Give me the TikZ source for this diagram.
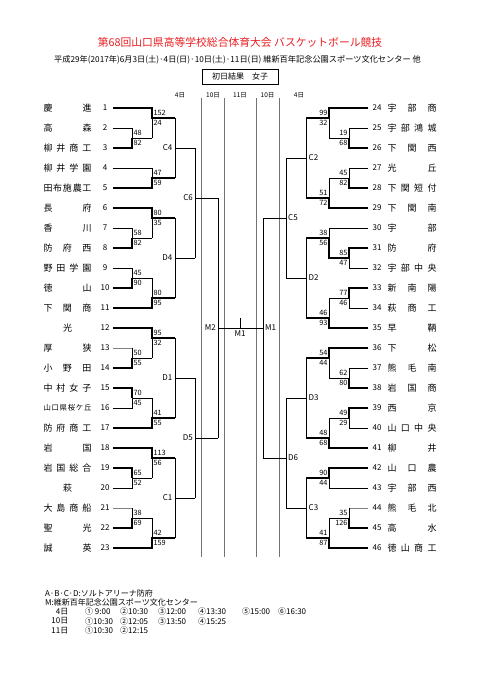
\documentclass[tikz,border=0pt]{standalone}
\usepackage{fontspec}
\setmainfont{Noto Sans CJK JP}
\definecolor{titlered}{RGB}{235,30,35}
\newcommand\lteam[2]{\node[nm] (nL#1) at (67.5,{108+20*(#1-1)}) {\makebox[48pt]{#2}};\node[num] (uL#1) at (105,{108+20*(#1-1)}) {#1};}
\newcommand\rteam[2]{\node[nm] (nR#1) at (412,{108+20*(#1-24)}) {\makebox[49pt]{#2}};\node[num] (uR#1) at (377,{108+20*(#1-24)}) {#1};}
\newcommand\lsc[4]{\node[sc,anchor=west] at (#1+1.3,#2-5.2) {#3};\node[sc,anchor=west] at (#1+1.3,#2+5.2) {#4};}
\newcommand\rsc[4]{\node[sc,anchor=east] at (#1-1.3,#2-5.2) {#3};\node[sc,anchor=east] at (#1-1.3,#2+5.2) {#4};}
\begin{document}
\begin{tikzpicture}[x=1pt,y=-1pt,
  ln/.style={line width=0.8pt,line join=miter},
  wn/.style={line width=2pt,line join=miter},
  lg/.style={line width=0.8pt,black!50},
  day/.style={black!55,line width=0.6pt},
  nm/.style={inner sep=0pt,font=\fontsize{9}{9}\selectfont},
  num/.style={inner sep=0pt,font=\fontsize{8}{8}\selectfont},
  sc/.style={inner sep=0pt,font=\fontsize{7.3}{7.3}\selectfont},
  lab/.style={inner sep=0pt,font=\fontsize{8}{8}\selectfont},
  hd/.style={inner sep=0pt,font=\fontsize{6.5}{6.5}\selectfont},
  note/.style={inner sep=0pt,anchor=west,font=\fontsize{8}{8}\selectfont}]
\useasboundingbox (0,0) rectangle (481,680);
\fill[white] (0,0) rectangle (481,680);

% titles
\node[inner sep=0pt,text=titlered,font=\fontsize{10.8}{11}\selectfont] (title) at (240,42) {第68回山口県高等学校総合体育大会 バスケットボール競技};
\node[inner sep=0pt,font=\fontsize{8.2}{8.4}\selectfont] (sub) at (237.5,60) {平成29年(2017年)6月3日(土)·4日(日)·10日(土)·11日(日) 維新百年記念公園スポーツ文化センター 他};
\node[draw,line width=0.7pt,minimum width=76pt,minimum height=15pt,inner sep=0pt,font=\fontsize{8}{8}\selectfont] (box) at (240,76.5) {初日結果　女子};

% day headers and lines
\node[hd] (h1) at (180,95) {4日};
\node[hd] (h2) at (213,95) {10日};
\node[hd] (h3) at (240,95) {11日};
\node[hd] (h4) at (267.5,95) {10日};
\node[hd] (h5) at (299,95) {4日};
\coordinate (d1t) at (201.5,98); \coordinate (d1b) at (201.5,557);
\coordinate (d2t) at (224,98); \coordinate (d2b) at (224,557);
\coordinate (d3t) at (256.5,98); \coordinate (d3b) at (256.5,557);
\coordinate (d4t) at (279,98); \coordinate (d4b) at (279,557);
\draw[day] (d1t) -- (d1b); \draw[day] (d2t) -- (d2b);
\draw[day] (d3t) -- (d3b); \draw[day] (d4t) -- (d4b);

% left teams
\lteam{1}{慶\hfill 進}
\lteam{2}{高\hfill 森}
\lteam{3}{柳\hfill 井\hfill 商\hfill 工}
\lteam{4}{柳\hfill 井\hfill 学\hfill 園}
\lteam{5}{田\hfill 布\hfill 施\hfill 農\hfill 工}
\lteam{6}{長\hfill 府}
\lteam{7}{香\hfill 川}
\lteam{8}{防\hfill 府\hfill 西}
\lteam{9}{野\hfill 田\hfill 学\hfill 園}
\lteam{10}{徳\hfill 山}
\lteam{11}{下\hfill 関\hfill 商}
\lteam{12}{\hfill 光\hfill}
\lteam{13}{厚\hfill 狭}
\lteam{14}{小\hfill 野\hfill 田}
\lteam{15}{中\hfill 村\hfill 女\hfill 子}
\lteam{16}{\fontsize{7.4}{7.4}\selectfont 山\hfill 口\hfill 県\hfill 桜\hfill ケ\hfill 丘}
\lteam{17}{防\hfill 府\hfill 商\hfill 工}
\lteam{18}{岩\hfill 国}
\lteam{19}{岩\hfill 国\hfill 総\hfill 合}
\lteam{20}{\hfill 萩\hfill}
\lteam{21}{大\hfill 島\hfill 商\hfill 船}
\lteam{22}{聖\hfill 光}
\lteam{23}{誠\hfill 英}

% right teams
\rteam{24}{宇\hfill 部\hfill 商}
\rteam{25}{宇\hfill 部\hfill 鴻\hfill 城}
\rteam{26}{下\hfill 関\hfill 西}
\rteam{27}{光\hfill 丘}
\rteam{28}{下\hfill 関\hfill 短\hfill 付}
\rteam{29}{下\hfill 関\hfill 南}
\rteam{30}{宇\hfill 部}
\rteam{31}{防\hfill 府}
\rteam{32}{宇\hfill 部\hfill 中\hfill 央}
\rteam{33}{新\hfill 南\hfill 陽}
\rteam{34}{萩\hfill 商\hfill 工}
\rteam{35}{早\hfill 鞆}
\rteam{36}{下\hfill 松}
\rteam{37}{熊\hfill 毛\hfill 南}
\rteam{38}{岩\hfill 国\hfill 商}
\rteam{39}{西\hfill 京}
\rteam{40}{山\hfill 口\hfill 中\hfill 央}
\rteam{41}{柳\hfill 井}
\rteam{42}{山\hfill 口\hfill 農}
\rteam{43}{宇\hfill 部\hfill 西}
\rteam{44}{熊\hfill 毛\hfill 北}
\rteam{45}{高\hfill 水}
\rteam{46}{徳\hfill 山\hfill 商\hfill 工}

% left bracket thin
\draw[ln]
  (113,108)--(152,108) (113,128)--(132,128)--(132,148)--(113,148) (132,138)--(152,138)
  (152,108)--(152,138) (152,118)--(175,118)
  (113,168)--(152,168)--(152,188)--(113,188) (152,178)--(175,178)
  (175,118)--(175,178) (175,148)--(195,148)
  (113,208)--(152,208) (113,228)--(132,228)--(132,248)--(113,248) (132,238)--(152,238)
  (152,208)--(152,238) (152,218)--(175,218)
  (113,268)--(132,268)--(132,288)--(113,288) (132,278)--(152,278) (113,308)--(152,308)
  (152,278)--(152,308) (152,298)--(175,298)
  (175,218)--(175,298) (175,258)--(195,258)
  (195,148)--(195,258) (195,198)--(218,198)
  (113,328)--(152,328) (132,348)--(132,368)--(113,368) (132,358)--(152,358)
  (152,328)--(152,358) (152,338)--(175,338)
  (113,388)--(132,388)--(132,408)--(113,408) (132,398)--(152,398) (113,428)--(152,428)
  (152,398)--(152,428) (152,418)--(175,418)
  (175,338)--(175,418) (175,378)--(195,378)
  (113,448)--(152,448) (113,468)--(132,468)--(132,488)--(113,488) (132,478)--(152,478)
  (152,448)--(152,478) (152,458)--(175,458)
  (132,508)--(132,528)--(113,528) (132,518)--(152,518) (113,548)--(152,548)
  (152,518)--(152,548) (152,538)--(175,538)
  (175,458)--(175,538) (175,498)--(195,498)
  (195,378)--(195,498) (195,438)--(218,438)
  (218,198)--(218,438) (218,328)--(263,328)
  (240,318)--(240,328);
\draw[lg] (113,348)--(132,348) (113,508)--(132,508) (368,508)--(349,508);

% right bracket thin
\draw[ln]
  (368,108)--(329,108) (368,128)--(349,128)--(349,148)--(368,148) (349,138)--(329,138)
  (329,108)--(329,138) (329,118)--(306,118)
  (368,168)--(349,168)--(349,188)--(368,188) (349,178)--(329,178) (368,208)--(329,208)
  (329,178)--(329,208) (329,198)--(306,198)
  (306,118)--(306,198) (306,158)--(286,158)
  (368,228)--(329,228) (368,248)--(349,248)--(349,268)--(368,268) (349,258)--(329,258)
  (329,228)--(329,258) (329,238)--(306,238)
  (368,288)--(349,288)--(349,308)--(368,308) (349,298)--(329,298) (368,328)--(329,328)
  (329,298)--(329,328) (329,318)--(306,318)
  (306,238)--(306,318) (306,278)--(286,278)
  (286,158)--(286,278) (286,218)--(263,218)
  (368,348)--(329,348) (368,368)--(349,368)--(349,388)--(368,388) (349,378)--(329,378)
  (329,348)--(329,378) (329,358)--(306,358)
  (368,408)--(349,408)--(349,428)--(368,428) (349,418)--(329,418) (368,448)--(329,448)
  (329,418)--(329,448) (329,438)--(306,438)
  (306,358)--(306,438) (306,398)--(286,398)
  (368,468)--(329,468)--(329,488)--(368,488) (329,478)--(306,478)
  (349,508)--(349,528)--(368,528) (349,518)--(329,518) (368,548)--(329,548)
  (329,518)--(329,548) (329,538)--(306,538)
  (306,478)--(306,538) (306,508)--(286,508)
  (286,398)--(286,508) (286,458)--(263,458)
  (263,218)--(263,458);

% winners (thick)
\draw[wn] (113,108)--(152,108)--(152,118)--(175,118);
\draw[wn] (113,148)--(132,148)--(132,138);
\draw[wn] (113,188)--(152,188)--(152,178)--(175,178);
\draw[wn] (113,208)--(152,208)--(152,218)--(175,218);
\draw[wn] (113,248)--(132,248)--(132,238);
\draw[wn] (113,288)--(132,288)--(132,278);
\draw[wn] (113,308)--(152,308)--(152,298)--(175,298);
\draw[wn] (113,328)--(152,328)--(152,338)--(175,338);
\draw[wn] (113,368)--(132,368)--(132,358);
\draw[wn] (113,388)--(132,388)--(132,398);
\draw[wn] (113,428)--(152,428)--(152,418)--(175,418);
\draw[wn] (113,448)--(152,448)--(152,458)--(175,458);
\draw[wn] (113,468)--(132,468)--(132,478);
\draw[wn] (113,528)--(132,528)--(132,518);
\draw[wn] (113,548)--(152,548)--(152,538)--(175,538);

\draw[wn] (368,108)--(329,108)--(329,118)--(306,118);
\draw[wn] (368,148)--(349,148)--(349,138);
\draw[wn] (368,188)--(349,188)--(349,178);
\draw[wn] (368,208)--(329,208)--(329,198)--(306,198);
\draw[wn] (368,248)--(349,248)--(349,258)--(329,258)--(329,238)--(306,238);
\draw[wn] (368,288)--(349,288)--(349,298);
\draw[wn] (368,328)--(329,328)--(329,318)--(306,318);
\draw[wn] (368,348)--(329,348)--(329,358)--(306,358);
\draw[wn] (368,388)--(349,388)--(349,378);
\draw[wn] (368,408)--(349,408)--(349,418);
\draw[wn] (368,448)--(329,448)--(329,438)--(306,438);
\draw[wn] (368,468)--(329,468)--(329,478)--(306,478);
\draw[wn] (368,528)--(349,528)--(349,518);
\draw[wn] (368,548)--(329,548)--(329,538)--(306,538);

% scores left
\lsc{132}{138}{48}{82}
\lsc{132}{238}{58}{82}
\lsc{132}{278}{45}{90}
\lsc{132}{358}{50}{55}
\lsc{132}{398}{70}{45}
\lsc{132}{478}{65}{52}
\lsc{132}{518}{38}{69}
\lsc{152}{118}{152}{24}
\lsc{152}{178}{47}{59}
\lsc{152}{218}{80}{35}
\lsc{152}{298}{80}{95}
\lsc{152}{338}{95}{32}
\lsc{152}{418}{41}{55}
\lsc{152}{458}{113}{56}
\lsc{152}{538}{42}{159}
% scores right
\rsc{349}{138}{19}{68}
\rsc{349}{178}{45}{82}
\rsc{349}{258}{85}{47}
\rsc{349}{298}{77}{46}
\rsc{349}{378}{62}{80}
\rsc{349}{418}{49}{29}
\rsc{349}{518}{35}{126}
\rsc{329}{118}{99}{32}
\rsc{329}{198}{51}{72}
\rsc{329}{238}{38}{56}
\rsc{329}{318}{46}{93}
\rsc{329}{358}{54}{44}
\rsc{329}{438}{48}{68}
\rsc{329}{478}{90}{44}
\rsc{329}{538}{41}{87}

% game labels
\node[lab,anchor=east] (C4) at (172.5,148) {C4};
\node[lab,anchor=east] (D4) at (172.5,258) {D4};
\node[lab,anchor=east] (D1) at (172.5,378) {D1};
\node[lab,anchor=east] (C1) at (172.5,498) {C1};
\node[lab,anchor=east] (C6) at (193,198) {C6};
\node[lab,anchor=east] (D5) at (193,438) {D5};
\node[lab,anchor=east] (M2) at (216,328) {M2};
\node[lab,anchor=west] (C2) at (308.5,158) {C2};
\node[lab,anchor=west] (D2) at (308.5,278) {D2};
\node[lab,anchor=west] (D3) at (308.5,398) {D3};
\node[lab,anchor=west] (C3) at (308.5,508) {C3};
\node[lab,anchor=west] (C5) at (288,218) {C5};
\node[lab,anchor=west] (D6) at (288,458) {D6};
\node[lab,anchor=west] (M1r) at (265,328) {M1};
\node[lab] (M1c) at (240,334) {M1};

% notes
\node[note] (n1) at (45,593) {A·B·C·D:ソルトアリーナ防府};
\node[note] (n2) at (45,602) {M:維新百年記念公園スポーツ文化センター};
\node[note,anchor=east] (n3) at (68.5,611.5) {4日};
\node[note,anchor=east] (n4) at (68.5,621) {10日};
\node[note,anchor=east] (n5) at (68.5,630.5) {11日};
\node[note] (t41) at (85,611.5) {① 9:00};
\node[note] (t42) at (120,611.5) {②10:30};
\node[note] (t43) at (158,611.5) {③12:00};
\node[note] (t44) at (198,611.5) {④13:30};
\node[note] (t45) at (242,611.5) {⑤15:00};
\node[note] (t46) at (278,611.5) {⑥16:30};
\node[note] (t101) at (85,621) {①10:30};
\node[note] (t102) at (120,621) {②12:05};
\node[note] (t103) at (158,621) {③13:50};
\node[note] (t104) at (198,621) {④15:25};
\node[note] (t111) at (85,630.5) {①10:30};
\node[note] (t112) at (120,630.5) {②12:15};
\end{tikzpicture}
\end{document}
